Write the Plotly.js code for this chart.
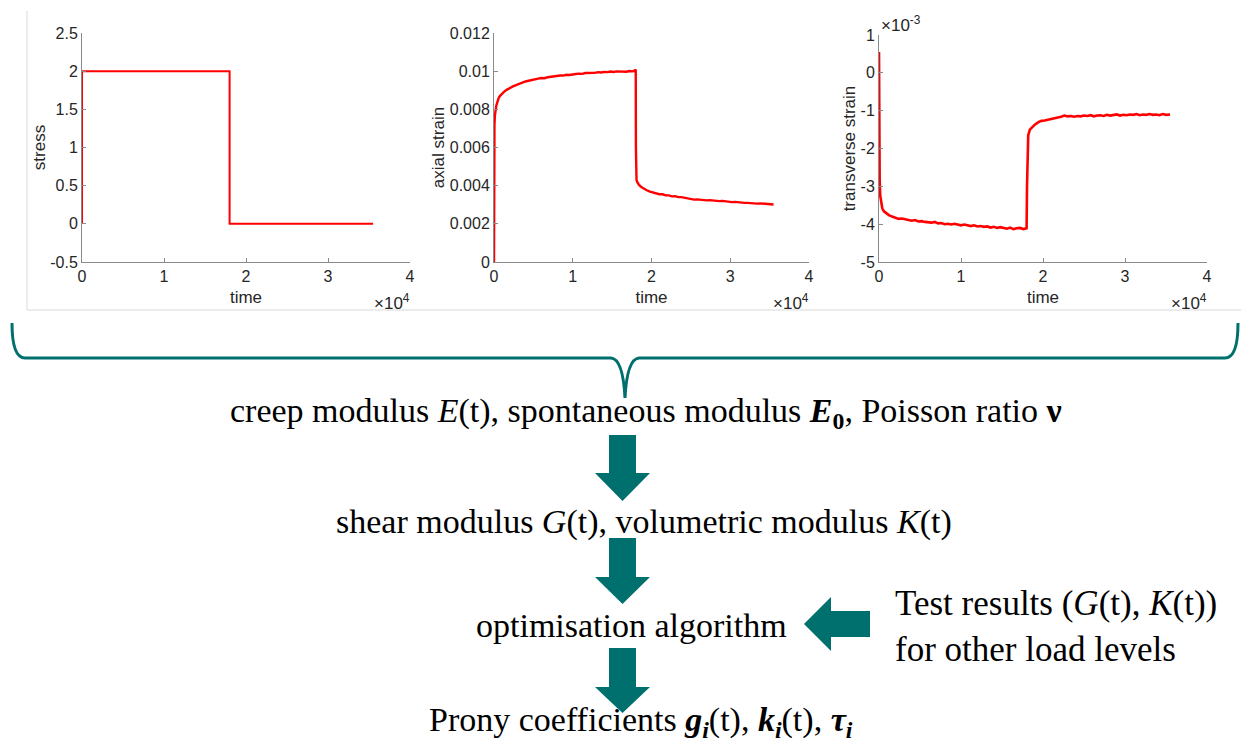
<!DOCTYPE html>
<html><head><meta charset="utf-8">
<script src="https://cdn.plot.ly/plotly-3.0.1.min.js"></script>
<style>html,body{margin:0;padding:0;background:#fff;}#chart{width:1241px;height:745px;}</style>
</head><body><div id="chart"></div>
<script>
// ---------- data ----------
const stressTime  = [0, 0, 18000, 18000, 35500];
const stressValue = [0, 2, 2, 0, 0];

const axialTime = [
  0,20,60,120,200,300,450,600,800,1000,
  1300,1600,2000,2400,2800,3200,3600,4000,4400,4800,
  5200,5600,6000,6400,6800,7200,7600,8000,8400,8800,
  9200,9600,10000,10400,10800,11200,11600,12000,12400,12800,
  13200,13600,14000,14400,14800,15200,15600,16000,16400,16800,
  17200,17600,17800,17900,17950,18000,18020,18050,18100,18200,
  18400,18700,19000,19400,19800,20200,20600,21000,21400,21800,
  22200,22600,23000,23400,23800,24200,24600,25000,25400,25800,
  26200,26600,27000,27400,27800,28200,28600,29000,29400,29800,
  30200,30600,31000,31400,31800,32200,32600,33000,33400,33800,
  34200,34600,35000,35500];
const axialStrain = [
  0,0.0062,0.0072,0.0077,0.0080,0.0082,0.0084,0.0086,0.00872,0.00882,
  0.00893,0.00902,0.00912,0.00920,0.00927,0.00934,0.00939,0.00946,0.00950,0.00955,
  0.00957,0.00961,0.00964,0.00963,0.00968,0.00971,0.00970,0.00975,0.00977,0.00977,
  0.00981,0.00980,0.00984,0.00985,0.00987,0.00986,0.00990,0.00990,0.00993,0.00991,
  0.00995,0.00993,0.00996,0.00995,0.00998,0.00996,0.00999,0.00998,0.01000,0.00997,
  0.01001,0.00999,0.01002,0.00998,0.01010,0.01002,0.0060,0.0045,0.00430,0.00418,
  0.00405,0.00393,0.00384,0.00376,0.00369,0.00364,0.00360,0.00355,0.00355,0.00349,
  0.00349,0.00344,0.00345,0.00340,0.00340,0.00336,0.00333,0.00330,0.00327,0.00328,
  0.00325,0.00326,0.00323,0.00324,0.00321,0.00322,0.00319,0.00320,0.00317,0.00317,
  0.00314,0.00315,0.00312,0.00313,0.00310,0.00310,0.00308,0.00309,0.00306,0.00307,
  0.00305,0.00305,0.00302,0.00301];

const transverseTime = [
  0,30,80,150,250,400,600,900,1200,1600,
  2000,2400,2800,3200,3600,4000,4400,4800,5200,5600,
  6000,6400,6800,7200,7600,8000,8400,8800,9200,9600,
  10000,10400,10800,11200,11600,12000,12400,12800,13200,13600,
  14000,14400,14800,15200,15600,16000,16400,16800,17200,17600,
  17900,18000,18050,18100,18200,18400,18700,19000,19400,19800,
  20200,20600,21000,21400,21800,22200,22600,23000,23400,23800,
  24200,24600,25000,25400,25800,26200,26600,27000,27400,27800,
  28200,28600,29000,29400,29800,30200,30600,31000,31400,31800,
  32200,32600,33000,33400,33800,34200,34600,35000,35500];
// transverse strain in units of 1e-3
const transverseStrainMilli = [
  0.55,-1.5,-2.8,-3.25,-3.45,-3.58,-3.66,-3.72,-3.76,-3.80,
  -3.83,-3.86,-3.85,-3.88,-3.89,-3.91,-3.89,-3.93,-3.92,-3.94,
  -3.95,-3.96,-3.94,-3.98,-3.97,-4.00,-3.99,-4.01,-3.99,-4.02,
  -4.03,-4.01,-4.04,-4.05,-4.03,-4.06,-4.05,-4.07,-4.06,-4.09,
  -4.07,-4.10,-4.08,-4.11,-4.12,-4.09,-4.13,-4.11,-4.10,-4.13,
  -4.10,-4.11,-3.0,-1.9,-1.65,-1.5,-1.42,-1.37,-1.31,-1.27,
  -1.26,-1.24,-1.23,-1.21,-1.19,-1.16,-1.13,-1.15,-1.14,-1.16,
  -1.14,-1.15,-1.13,-1.14,-1.12,-1.15,-1.13,-1.12,-1.14,-1.11,
  -1.13,-1.12,-1.10,-1.13,-1.11,-1.12,-1.10,-1.11,-1.09,-1.12,
  -1.10,-1.11,-1.09,-1.11,-1.10,-1.12,-1.09,-1.11,-1.10];

const timeTickVals = [0, 10000, 20000, 30000, 40000];
const timeTickText = ['0', '1', '2', '3', '4'];
const stressTickVals = [-0.5, 0, 0.5, 1, 1.5, 2, 2.5];
const stressTickText = ['-0.5', '0', '0.5', '1', '1.5', '2', '2.5'];
const axialTickVals = [0, 0.002, 0.004, 0.006, 0.008, 0.01, 0.012];
const axialTickText = ['0', '0.002', '0.004', '0.006', '0.008', '0.01', '0.012'];
const transTickVals = [-5, -4, -3, -2, -1, 0, 1];
const transTickText = ['-5', '-4', '-3', '-2', '-1', '0', '1'];

const yTitles = ['stress', 'axial strain', 'transverse strain'];
const flowTexts = [
  'creep modulus <i>E</i>(t), spontaneous modulus <b><i>E</i><sub>0</sub></b>, Poisson ratio <b>ν</b>',
  'shear modulus <i>G</i>(t), volumetric modulus <i>K</i>(t)',
  'optimisation algorithm',
  'Test results (<i>G</i>(t), <i>K</i>(t))<br>for other load levels',
  'Prony coefficients <b><i>g<sub>i</sub></i></b>(t), <b><i>k<sub>i</sub></i></b>(t), <b><i>τ<sub>i</sub></i></b>'
];

// ---------- layout helpers ----------
const W = 1241, H = 745;
const px = x => x / W;
const py = y => 1 - y / H;
const TEAL = 'rgb(0,112,110)';
const RED = '#ff0000';
const SANS = 'Liberation Sans, Arial, sans-serif';
const TICKFONT = {family: SANS, size: 16, color: '#262626'};
const TITLEFONT = {family: SANS, size: 17, color: '#262626'};

const panels = [
  {x0: 82, x1: 410, y0: 33, y1: 262, yr: [-0.5, 2.5], tv: stressTickVals, tt: stressTickText},
  {x0: 494, x1: 809, y0: 33, y1: 262, yr: [0, 0.012], tv: axialTickVals, tt: axialTickText},
  {x0: 879, x1: 1207, y0: 35, y1: 262, yr: [-5, 1], tv: transTickVals, tt: transTickText}
];

const layout = {
  width: W, height: H,
  margin: {l: 0, r: 0, t: 0, b: 0},
  paper_bgcolor: '#fff', plot_bgcolor: '#fff',
  showlegend: false,
  shapes: [], annotations: []
};

panels.forEach((p, i) => {
  const n = i + 1, m = i + 4;
  const xs = n === 1 ? '' : n, ys = n === 1 ? '' : n;
  const common = {showgrid: false, zeroline: false, ticks: 'inside', ticklen: 4, tickwidth: 1};
  layout['xaxis' + xs] = Object.assign({}, common, {
    domain: [px(p.x0), px(p.x1)], anchor: 'y' + ys, range: [0, 40000],
    tickmode: 'array', tickvals: timeTickVals, ticktext: timeTickText,
    showline: true, linecolor: '#8a8a8a', tickcolor: '#8a8a8a', tickfont: TICKFONT,
    title: {text: 'time', font: TITLEFONT, standoff: 6}
  });
  layout['yaxis' + ys] = Object.assign({}, common, {
    domain: [py(p.y1), py(p.y0)], anchor: 'x' + xs, range: p.yr,
    tickmode: 'array', tickvals: p.tv, ticktext: p.tt,
    showline: true, linecolor: '#8a8a8a', tickcolor: '#8a8a8a', tickfont: TICKFONT,
    title: {text: yTitles[i], font: TITLEFONT, standoff: 0}
  });
  // mirrored box (top / right) in light gray with inside ticks
  layout['xaxis' + m] = Object.assign({}, common, {
    overlaying: 'x' + xs, anchor: 'y' + ys, side: 'top', range: [0, 40000],
    tickmode: 'array', tickvals: timeTickVals, showticklabels: false,
    showline: true, linecolor: '#d6d6d6', tickcolor: '#bdbdbd', ticklen: 3
  });
  layout['yaxis' + m] = Object.assign({}, common, {
    overlaying: 'y' + ys, anchor: 'x' + xs, side: 'right', range: p.yr,
    tickmode: 'array', tickvals: p.tv, showticklabels: false,
    showline: true, linecolor: '#d6d6d6', tickcolor: '#bdbdbd', ticklen: 3
  });
  // x10^4 exponent label
  layout.annotations.push({
    xref: 'paper', yref: 'paper', x: px(p.x1 + 2), y: py(302), xanchor: 'right', yanchor: 'middle',
    text: '×10<sup>4</sup>', showarrow: false, font: {family: SANS, size: 17, color: '#262626'}
  });
});
layout.annotations.push({
  xref: 'paper', yref: 'paper', x: px(879), y: py(24), xanchor: 'left', yanchor: 'middle',
  text: '×10<sup>-3</sup>', showarrow: false, font: {family: SANS, size: 17, color: '#262626'}
});

// light frame of the figure image
layout.shapes.push({type: 'line', xref: 'paper', yref: 'paper', x0: px(27), x1: px(27), y0: py(11), y1: py(310), line: {color: '#d9d9d9', width: 1}});
layout.shapes.push({type: 'line', xref: 'paper', yref: 'paper', x0: px(27), x1: px(1241), y0: py(310), y1: py(310), line: {color: '#d9d9d9', width: 1}});

// brace
function pathOf(cmds) {
  return cmds.map(c => c[0] + ' ' + c.slice(1).map((v, k) => (k % 2 === 0 ? px(v) : py(v)).toFixed(5)).join(' ')).join(' ');
}
layout.shapes.push({
  type: 'path', xref: 'paper', yref: 'paper',
  path: pathOf([['M', 12, 323], ['Q', 12, 358, 25, 358], ['L', 611, 358], ['Q', 623, 359, 625, 398],
                ['Q', 627, 359, 639, 358], ['L', 1225, 358], ['Q', 1238, 358, 1238, 323]]),
  line: {color: TEAL, width: 3}
});

// block arrows
function downArrow(top, base, tip) {
  return pathOf([['M', 609, top], ['L', 636, top], ['L', 636, base], ['L', 650, base], ['L', 622.5, tip],
                 ['L', 595, base], ['L', 609, base]]) + ' Z';
}
[[435, 473, 501], [538, 577, 604], [648, 687, 713]].forEach(a => {
  layout.shapes.push({type: 'path', xref: 'paper', yref: 'paper', path: downArrow(a[0], a[1], a[2]),
    fillcolor: TEAL, line: {width: 0}});
});
layout.shapes.push({type: 'path', xref: 'paper', yref: 'paper',
  path: pathOf([['M', 870, 611], ['L', 870, 637], ['L', 831, 637], ['L', 831, 651], ['L', 804, 624],
                ['L', 831, 597], ['L', 831, 611]]) + ' Z',
  fillcolor: TEAL, line: {width: 0}});

// flow text
const SERIF_FAMILY = 'Liberation Serif, Times New Roman, serif';
const textPos = [
  {x: 646, y: 413, xa: 'center', s: 34},
  {x: 644, y: 522, xa: 'center', s: 34},
  {x: 631, y: 625, xa: 'center', s: 34},
  {x: 893, y: 626, xa: 'left', s: 35},
  {x: 641, y: 722, xa: 'center', s: 34}
];
flowTexts.forEach((t, i) => {
  layout.annotations.push({
    xref: 'paper', yref: 'paper', x: px(textPos[i].x), y: py(textPos[i].y),
    xanchor: textPos[i].xa, yanchor: 'middle', align: 'left',
    text: t, showarrow: false, font: {family: SERIF_FAMILY, size: textPos[i].s, color: '#000'}
  });
});

// ---------- traces ----------
const traces = [
  {x: stressTime, y: stressValue, xaxis: 'x', yaxis: 'y', type: 'scatter', mode: 'lines',
   line: {color: RED, width: 2}, hoverinfo: 'skip'},
  {x: axialTime, y: axialStrain, xaxis: 'x2', yaxis: 'y2', type: 'scatter', mode: 'lines',
   line: {color: RED, width: 2.4}, hoverinfo: 'skip'},
  {x: transverseTime, y: transverseStrainMilli, xaxis: 'x3', yaxis: 'y3', type: 'scatter', mode: 'lines',
   line: {color: RED, width: 2.6}, hoverinfo: 'skip'}
];

Plotly.newPlot('chart', traces, layout, {displayModeBar: false, staticPlot: true});
</script>
</body></html>
